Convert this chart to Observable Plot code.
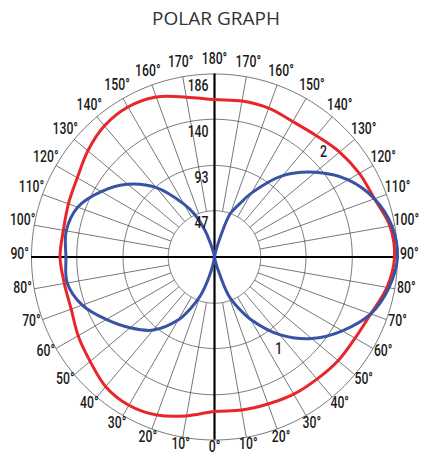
<!DOCTYPE html>
<html>
<head>
<meta charset="utf-8">
<script src="https://cdn.jsdelivr.net/npm/d3@7"></script>
<script src="https://cdn.jsdelivr.net/npm/@observablehq/plot@0.6"></script>
<style>
  html, body { margin: 0; padding: 0; background: #fff; }
  #title { width: 422px; height: 36px; line-height: 36px; text-align: center; padding-left: 10px; box-sizing: border-box;
           font-family: "Open Sans", sans-serif; font-size: 19px; color: #333; }
  #chart svg { display: block; }
</style>
</head>
<body>
<div id="title">POLAR GRAPH</div>
<div id="chart"></div>
<script>
// ---- data (radial values on the 0–186 scale, angles in degrees from the bottom "0°") ----
const ringValues = [47, 93, 140, 186];
const angleTicks = [0, 10, 20, 30, 40, 50, 60, 70, 80, 90, 100, 110, 120, 130, 140, 150, 160, 170, 180];

const redAngles = [0, 10, 20, 30, 40, 50, 60, 70, 80, 90, 100, 110, 120, 130, 140, 150, 160, 170, 180];
const redRight  = [157, 158, 159, 161, 162, 164, 165, 169, 178, 183, 181, 173, 170, 166, 161, 159, 161, 161, 160];
const redLeft   = [157, 164, 171, 174, 172, 165, 160, 155, 155, 157, 156, 158, 161, 168, 174, 176, 173, 165, 160];

const blueAngles = [0, 10, 15, 20, 25, 30, 40, 50, 60, 70, 80, 90, 100, 110, 120, 130, 140, 150, 155, 160, 165, 170, 180];
const blueRight  = [0, 3, 12, 41, 57, 73, 103, 129, 150, 169, 180, 186, 183, 173, 157, 134, 108, 75, 59, 47, 15, 3, 0];
const blueLeft   = [0, 5, 20, 42, 58, 74, 97, 112, 127, 143, 152, 151, 153, 148, 133, 115, 92, 62, 48, 30, 10, 2, 0];

const seriesNames  = ["1", "2"];
const seriesLabelAngle = [35, 134];
const seriesLabelR     = [114, 154];

// ---- helpers ----
const rad = Math.PI / 180;
const px = (a, r, side) => side * r * Math.sin(a * rad);
const py = (a, r) => -r * Math.cos(a * rad);
const R = 186;
const innerR = ringValues[0];
const labelR = 198;

const redPts = [];
redAngles.forEach((a, i) => redPts.push({x: px(a, redRight[i], 1), y: py(a, redRight[i])}));
for (let i = redAngles.length - 2; i >= 1; i--) redPts.push({x: px(redAngles[i], redLeft[i], -1), y: py(redAngles[i], redLeft[i])});

const bluePts = [];
blueAngles.forEach((a, i) => bluePts.push({x: px(a, blueRight[i], 1), y: py(a, blueRight[i])}));
for (let i = blueAngles.length - 2; i >= 1; i--) bluePts.push({x: px(blueAngles[i], blueLeft[i], -1), y: py(blueAngles[i], blueLeft[i])});

const ringPts = [];
ringValues.forEach(v => { for (let d = 0; d < 360; d += 1) ringPts.push({ring: v, x: v * Math.sin(d * rad), y: v * Math.cos(d * rad)}); });

const spokes = [];
angleTicks.filter(a => a % 90 !== 0).forEach(a => {
  [1, -1].forEach(s => spokes.push({x1: px(a, innerR, s), y1: py(a, innerR), x2: px(a, R, s), y2: py(a, R)}));
});

const angleLabels = [];
angleTicks.forEach(a => {
  const sides = (a === 0 || a === 180) ? [1] : [1, -1];
  sides.forEach(s => angleLabels.push({a, text: a + "°", x: px(a, labelR, s), y: py(a, labelR)}));
});

const ringLabels = ringValues.map(v => ({text: String(v), x: 0, y: v}));
const seriesLabels = seriesNames.map((n, i) => ({text: n, x: px(seriesLabelAngle[i], seriesLabelR[i], 1), y: py(seriesLabelAngle[i], seriesLabelR[i])}));

const labelFont = {fontSize: 17, fontWeight: 500, fill: "#1a1a1a"};

const chart = Plot.plot({
  width: 422,
  height: 419,
  marginLeft: 31,
  marginRight: 25,
  marginTop: 37.5,
  marginBottom: 15.5,
  x: {domain: [-R, R], axis: null},
  y: {domain: [-R, R], axis: null},
  style: {fontFamily: "Roboto, sans-serif", background: "#fff"},
  marks: [
    Plot.line(ringPts, {x: "x", y: "y", z: "ring", curve: "linear-closed", stroke: "#555", strokeWidth: 0.8}),
    Plot.link(spokes, {x1: "x1", y1: "y1", x2: "x2", y2: "y2", stroke: "#555", strokeWidth: 0.8}),
    Plot.ruleX([0], {y1: -R, y2: R, stroke: "#000", strokeWidth: 2.2}),
    Plot.ruleY([0], {x1: -R, x2: R, stroke: "#000", strokeWidth: 2.2}),
    Plot.line(redPts, {x: "x", y: "y", curve: "catmull-rom-closed", stroke: "#e8262a", strokeWidth: 3}),
    Plot.line(bluePts, {x: "x", y: "y", curve: "catmull-rom-closed", stroke: "#3953a4", strokeWidth: 3}),
    Plot.text(angleLabels.filter(d => d.a > 10), {x: "x", y: "y", text: "text", dy: -3.5, textAnchor: "middle", lineAnchor: "middle", ...labelFont}),
    Plot.text(angleLabels.filter(d => d.a <= 10), {x: "x", y: "y", text: "text", dy: -5.5, textAnchor: "middle", lineAnchor: "middle", ...labelFont}),
    Plot.text(ringLabels, {x: "x", y: "y", text: "text", dx: -6, dy: 12, textAnchor: "end", lineAnchor: "middle", ...labelFont}),
    Plot.text(seriesLabels, {x: "x", y: "y", text: "text", textAnchor: "middle", lineAnchor: "middle", ...labelFont})
  ]
});

// condense the label glyphs horizontally around their anchor point
chart.querySelectorAll("text").forEach(t => {
  let tr = t.getAttribute("transform");
  if (!tr) {
    const x = t.getAttribute("x") || 0, y = t.getAttribute("y") || 0;
    t.removeAttribute("x"); t.removeAttribute("y");
    tr = `translate(${x},${y})`;
  }
  t.setAttribute("transform", tr + " scale(0.72,1)");
});
document.getElementById("chart").appendChild(chart);
</script>
</body>
</html>
